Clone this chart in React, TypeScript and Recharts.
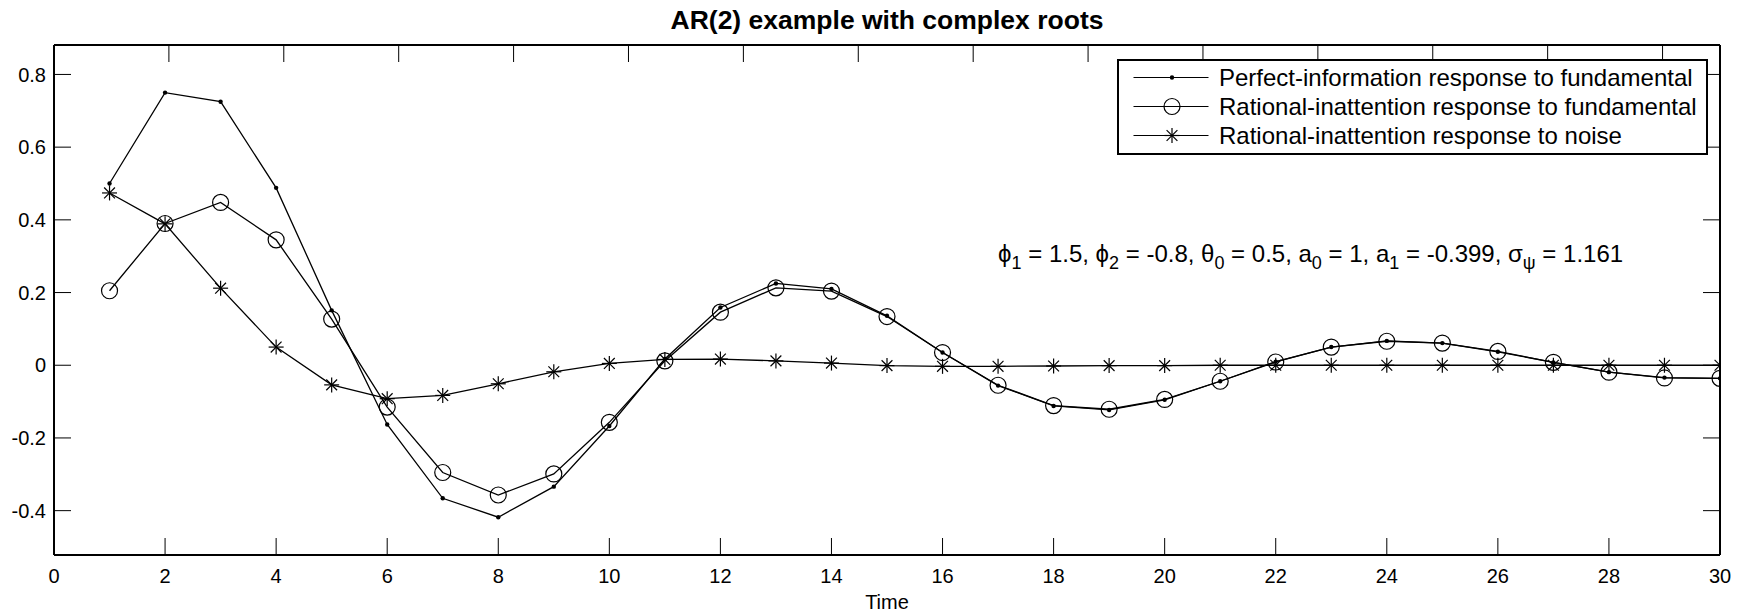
import React from "react";
import { LineChart, Line, XAxis, YAxis, Legend, ReferenceDot } from "recharts";

// impulse responses, lag 1..30
const time = [1, 2, 3, 4, 5, 6, 7, 8, 9, 10, 11, 12, 13, 14, 15, 16, 17, 18, 19, 20, 21, 22, 23, 24, 25, 26, 27, 28, 29, 30];
const perfectInfo = [0.5, 0.75, 0.725, 0.488, 0.151, -0.163, -0.366, -0.418, -0.334, -0.167, 0.017, 0.159, 0.225, 0.21, 0.136, 0.035, -0.056, -0.112, -0.123, -0.095, -0.044, 0.01, 0.05, 0.067, 0.061, 0.037, 0.008, -0.019, -0.034, -0.036];
const riFundamental = [0.205, 0.39, 0.448, 0.345, 0.127, -0.115, -0.295, -0.357, -0.299, -0.157, 0.012, 0.146, 0.213, 0.204, 0.134, 0.035, -0.055, -0.111, -0.121, -0.094, -0.044, 0.009, 0.05, 0.066, 0.061, 0.038, 0.008, -0.019, -0.035, -0.036];
const riNoise = [0.474, 0.389, 0.212, 0.05, -0.054, -0.092, -0.083, -0.051, -0.018, 0.005, 0.016, 0.017, 0.012, 0.006, -0.001, -0.003, -0.003, -0.002, -0.001, -0.001, 0, 0, 0, 0, 0, 0, 0, 0, 0, 0];

const xTicks = [0, 2, 4, 6, 8, 10, 12, 14, 16, 18, 20, 22, 24, 26, 28, 30];
const yTicks = [-0.4, -0.2, 0, 0.2, 0.4, 0.6, 0.8];
const seriesNames = [
  "Perfect-information response to fundamental",
  "Rational-inattention response to fundamental",
  "Rational-inattention response to noise",
];

const data = time.map((t, i) => ({ t, pi: perfectInfo[i], rf: riFundamental[i], rn: riNoise[i] }));

const FONT = "'Liberation Sans', Arial, Helvetica, sans-serif";
const TICK_LEN = 17;

const DotMark = (p: any) => <circle key={`d-${p.index}`} cx={p.cx} cy={p.cy} r={2.2} fill="#000" />;
const CircleMark = (p: any) => (
  <circle key={`c-${p.index}`} cx={p.cx} cy={p.cy} r={8} fill="none" stroke="#000" strokeWidth={1.2} />
);
function starLines(cx: number, cy: number, s: number) {
  const d = s * 0.72;
  return (
    <g stroke="#000" strokeWidth={1.2}>
      <line x1={cx - s} y1={cy} x2={cx + s} y2={cy} />
      <line x1={cx} y1={cy - s} x2={cx} y2={cy + s} />
      <line x1={cx - d} y1={cy - d} x2={cx + d} y2={cy + d} />
      <line x1={cx - d} y1={cy + d} x2={cx + d} y2={cy - d} />
    </g>
  );
}
const StarMark = (p: any) => <g key={`s-${p.index}`}>{starLines(p.cx, p.cy, 7.5)}</g>;

// axes are 1px thick boxes, so tick x/y land on the plot edges
const BottomTick = (p: any) => (
  <g>
    <line x1={p.x} x2={p.x} y1={p.y} y2={p.y - TICK_LEN} stroke="#000" strokeWidth={1} />
    <text x={p.x} y={p.y + 27.5} textAnchor="middle" fontSize={20} fill="#000" fontFamily={FONT}>
      {p.payload.value}
    </text>
  </g>
);
const LeftTick = (p: any) => (
  <g>
    <line x1={p.x} x2={p.x + TICK_LEN} y1={p.y} y2={p.y} stroke="#000" strokeWidth={1} />
    <text x={p.x - 8} y={p.y} dy="0.36em" textAnchor="end" fontSize={20} fill="#000" fontFamily={FONT}>
      {p.payload.value}
    </text>
  </g>
);
const TopTick = (p: any) => <line x1={p.x} x2={p.x} y1={p.y} y2={p.y + TICK_LEN} stroke="#000" strokeWidth={1} />;
const RightTick = (p: any) => <line x1={p.x} x2={p.x - TICK_LEN} y1={p.y} y2={p.y} stroke="#000" strokeWidth={1} />;

// parameter note, subscripts as shifted tspans
const paramParts: [string, string][] = [
  ["ϕ", "1"],
  [" = 1.5, ϕ", "2"],
  [" = -0.8, θ", "0"],
  [" = 0.5, a", "0"],
  [" = 1, a", "1"],
  [" = -0.399, σ", "ψ"],
  [" = 1.161", ""],
];
function ParamText(props: any) {
  const vb = props.viewBox || { x: 0, y: 0 };
  const spans: React.ReactNode[] = [];
  paramParts.forEach(([main, sub], i) => {
    spans.push(
      <tspan key={`m${i}`} dy={i === 0 ? 5.5 : -7}>
        {main}
      </tspan>
    );
    if (sub) {
      spans.push(
        <tspan key={`s${i}`} dy={7} fontSize={18}>
          {sub}
        </tspan>
      );
    }
  });
  return (
    <text x={vb.x} y={vb.y} fontSize={24} fill="#000" fontFamily={FONT}>
      {spans}
    </text>
  );
}

function LegendSample({ kind }: { kind: number }) {
  return (
    <svg width={100} height={29} style={{ display: "block", flex: "none" }}>
      <line x1={14.5} x2={89.5} y1={14.5} y2={14.5} stroke="#000" strokeWidth={1.2} />
      {kind === 0 && <circle cx={53} cy={14.5} r={2.2} fill="#000" />}
      {kind === 1 && <circle cx={53} cy={14.5} r={8} fill="none" stroke="#000" strokeWidth={1.2} />}
      {kind === 2 && starLines(53, 14.5, 7.5)}
    </svg>
  );
}

function LegendBox() {
  return (
    <div
      style={{
        boxSizing: "border-box",
        width: 591,
        height: 96,
        border: "2px solid #000",
        background: "#fff",
        paddingTop: 2,
        fontFamily: FONT,
      }}
    >
      {seriesNames.map((name, i) => (
        <div key={name} style={{ display: "flex", alignItems: "center", height: 29, lineHeight: "29px" }}>
          <LegendSample kind={i} />
          <span style={{ fontSize: 24, whiteSpace: "nowrap", color: "#000" }}>{name}</span>
        </div>
      ))}
    </div>
  );
}

const axisStroke = { stroke: "#000", strokeWidth: 2 };

export default function App() {
  return (
    <div style={{ position: "relative", width: 1730, height: 608, background: "#fff", fontFamily: FONT }}>
      <div
        style={{
          position: "absolute",
          left: 46,
          width: 1666,
          top: -3,
          height: 30,
          lineHeight: "30px",
          textAlign: "center",
          fontWeight: "bold",
          fontSize: 26.5,
          color: "#000",
          whiteSpace: "nowrap",
        }}
      >
        AR(2) example with complex roots
      </div>
      <LineChart width={1730} height={608} data={data} margin={{ top: 36, right: 17, bottom: 60, left: 45 }}>
        <XAxis
          dataKey="t"
          type="number"
          domain={[0, 30]}
          ticks={xTicks}
          interval={0}
          allowDataOverflow
          height={1}
          tickSize={0}
          tickMargin={0}
          tickLine={false}
          tick={BottomTick}
          axisLine={axisStroke}
          label={{ value: "Time", position: "bottom", offset: 39, fill: "#000", fontSize: 20, fontFamily: FONT }}
        />
        <XAxis
          xAxisId="top"
          orientation="top"
          type="number"
          domain={[0, 30]}
          ticks={xTicks}
          interval={0}
          allowDataOverflow
          height={1}
          tickSize={0}
          tickMargin={0}
          tickLine={false}
          tick={TopTick}
          axisLine={axisStroke}
        />
        <YAxis
          type="number"
          domain={[-0.522, 0.881]}
          ticks={yTicks}
          interval={0}
          allowDataOverflow
          width={1}
          tickSize={0}
          tickMargin={0}
          tickLine={false}
          tick={LeftTick}
          axisLine={axisStroke}
        />
        <YAxis
          yAxisId="right"
          orientation="right"
          type="number"
          domain={[-0.522, 0.881]}
          ticks={yTicks}
          interval={0}
          allowDataOverflow
          width={1}
          tickSize={0}
          tickMargin={0}
          tickLine={false}
          tick={RightTick}
          axisLine={axisStroke}
        />
        <Line
          type="linear"
          dataKey="rn"
          name={seriesNames[2]}
          stroke="#000"
          strokeWidth={1.3}
          dot={StarMark}
          activeDot={false}
          isAnimationActive={false}
        />
        <Line
          type="linear"
          dataKey="rf"
          name={seriesNames[1]}
          stroke="#000"
          strokeWidth={1.3}
          dot={CircleMark}
          activeDot={false}
          isAnimationActive={false}
        />
        <Line
          type="linear"
          dataKey="pi"
          name={seriesNames[0]}
          stroke="#000"
          strokeWidth={1.3}
          dot={DotMark}
          activeDot={false}
          isAnimationActive={false}
        />
        <ReferenceDot x={17} y={0.3} r={0} fill="none" stroke="none" label={ParamText} />
        <Legend
          layout="horizontal"
          verticalAlign="middle"
          align="center"
          wrapperStyle={{ left: 1109, top: 51, width: 591, height: 96 }}
          content={() => <LegendBox />}
        />
      </LineChart>
    </div>
  );
}
